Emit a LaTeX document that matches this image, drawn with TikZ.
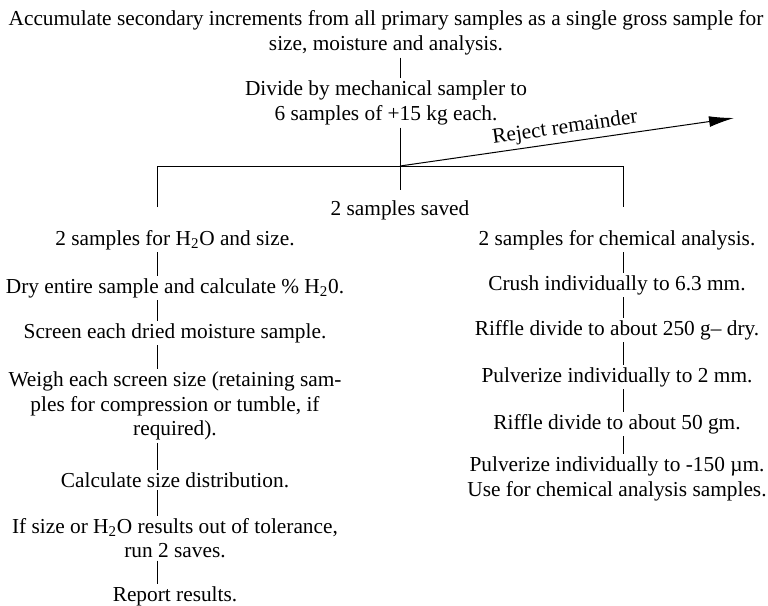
\documentclass[tikz,border=0pt]{standalone}
\usepackage{fontspec}
\setmainfont{Liberation Serif}
\usetikzlibrary{arrows.meta}
\begin{document}
\begin{tikzpicture}[x=0.6pt,y=-0.6pt,line width=0.6pt,
  every node/.style={align=center,inner sep=1.2pt,font=\fontsize{12.8}{14.8}\selectfont},
  lstem/.style={transform canvas={xshift=-10.8pt}},
  rstem/.style={transform canvas={xshift=3.6pt}},
  mstem/.style={transform canvas={xshift=8.4pt}}]
  \useasboundingbox (0,0) rectangle (768,605);
  \node (gross) at (386,33) {Accumulate secondary increments from all primary samples as a single gross sample for\\size, moisture and analysis.};
  \node (divide) at (386,103) {Divide by mechanical sampler to\\6 samples of +15 kg each.};
  \coordinate (split) at (400,166);
  \coordinate (lcorner) at (157,166);
  \coordinate (rcorner) at (623,166);
  \coordinate (lfoot) at (157,207);
  \coordinate (rfoot) at (623,207);
  \coordinate (mfoot) at (400,190);
  \coordinate (reject) at (734,118);
  \node (saved) at (400,210) {2 samples saved};
  \node (lwater) at (175,240) {2 samples for H\textsubscript{2}O and size.};
  \node (ldry) at (175,288) {Dry entire sample and calculate \% H\textsubscript{2}0.};
  \node (lscreen) at (175,333) {Screen each dried moisture sample.};
  \node (lweigh) at (175,406) {Weigh each screen size (retaining sam-\\ples for compression or tumble, if\\required).};
  \node (lcalc) at (175,480) {Calculate size distribution.};
  \node (ltol) at (175,538) {If size or H\textsubscript{2}O results out of tolerance,\\run 2 saves.};
  \node (lreport) at (175,596) {Report results.};
  \node (rchem) at (617,240) {2 samples for chemical analysis.};
  \node (rcrush) at (617,285) {Crush individually to 6.3 mm.};
  \node (rriffle) at (617,330) {Riffle divide to about 250 g-- dry.};
  \node (rpulv) at (617,377) {Pulverize individually to 2 mm.};
  \node (rrifflefine) at (617,424) {Riffle divide to about 50 gm.};
  \node (rfinal) at (617,479) {Pulverize individually to -150 µm.\\Use for chemical analysis samples.};
  \draw [mstem] (gross) -- (divide);
  \draw (divide.south -| mfoot) -- (mfoot);
  \draw (lfoot) -- (lcorner) -- (rcorner) -- (rfoot);
  \draw [-{Latex[length=15pt,width=6.5pt]}] (split) -- node [above=1pt,sloped] {Reject remainder} (reject);
  \draw [lstem] (lwater) -- (ldry);
  \draw [lstem] (ldry) -- (lscreen);
  \draw [lstem] (lscreen) -- (lweigh);
  \draw [lstem] (lweigh) -- (lcalc);
  \draw [lstem] (lcalc) -- (ltol);
  \draw [lstem] (ltol) -- (lreport);
  \draw [rstem] (rchem) -- (rcrush);
  \draw [rstem] (rcrush) -- (rriffle);
  \draw [rstem] (rriffle) -- (rpulv);
  \draw [rstem] (rpulv) -- (rrifflefine);
  \draw [rstem] (rrifflefine) -- (rfinal);
\end{tikzpicture}
\end{document}
